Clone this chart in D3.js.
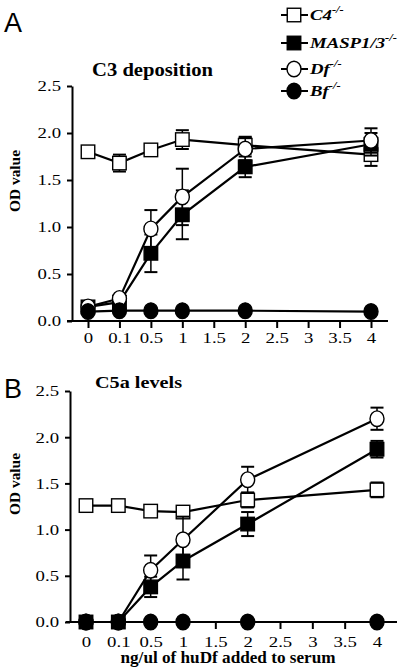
<!DOCTYPE html>
<html><head><meta charset="utf-8">
<script src="https://cdn.jsdelivr.net/npm/d3@7"></script>
<style>body{margin:0;background:#fff}svg{display:block}</style>
</head><body>
<svg id="c" width="400" height="671"></svg>
<script>
const xTickLabels = ["0","0.1","0.5","1","1.5","2","2.5","3","3.5","4"];
const doses = ["0","0.1","0.5","1","2","4"];
const yTicks = [0,0.5,1,1.5,2,2.5];
const seriesNames = ["C4","MASP1/3","Df","Bf"];

// Panel A: C3 deposition
const c3_C4 = [1.80,1.68,1.82,1.93,1.87,1.77];
const c3_C4_err = [0.04,0.09,0.04,0.10,0.09,0.12];
const c3_MASP = [0.15,0.20,0.72,1.13,1.64,1.88];
const c3_MASP_err = [0.03,0.03,0.20,0.26,0.11,0.12];
const c3_Df = [0.15,0.24,0.98,1.32,1.83,1.92];
const c3_Df_err = [0.03,0.03,0.20,0.30,0.12,0.13];
const c3_Bf = [0.10,0.11,0.11,0.11,0.11,0.10];
const c3_Bf_err = [0,0,0,0,0,0];

// Panel B: C5a levels
const c5_C4 = [1.26,1.26,1.20,1.19,1.32,1.43];
const c5_C4_err = [0.03,0.03,0.03,0.03,0.08,0.08];
const c5_MASP = [0,0,0.38,0.66,1.06,1.87];
const c5_MASP_err = [0,0,0.11,0.20,0.13,0.09];
const c5_Df = [0,0,0.56,0.89,1.54,2.20];
const c5_Df_err = [0,0,0.16,0.25,0.14,0.12];
const c5_Bf = [0,0,0,0,0,0];
const c5_Bf_err = [0,0,0,0,0,0];

const svg = d3.select("#c");
const serif = "'Liberation Serif','Times New Roman',serif";
const sans = "'Liberation Sans',Arial,sans-serif";

function stretch(sel, f) {
  sel.each(function() {
    const w = this.getComputedTextLength();
    d3.select(this).attr("textLength", w * f).attr("lengthAdjust", "spacingAndGlyphs");
  });
}

const markerStyles = [
  {shape:"square", fill:"#fff"},
  {shape:"square", fill:"#000"},
  {shape:"circle", fill:"#fff"},
  {shape:"circle", fill:"#000"}
];

function drawMarker(g, x, y, st) {
  if (st.shape === "square") {
    const s = 13.5;
    g.append("rect").attr("x", x - s/2).attr("y", y - s/2).attr("width", s).attr("height", s)
      .attr("fill", st.fill).attr("stroke", "#000").attr("stroke-width", 1.4);
  } else {
    g.append("ellipse").attr("cx", x).attr("cy", y).attr("rx", 7).attr("ry", 7.8)
      .attr("fill", st.fill).attr("stroke", "#000").attr("stroke-width", 1.4);
  }
}

function panel(cfg) {
  const x = d3.scalePoint().domain(xTickLabels).range(cfg.xRange);
  const y = d3.scaleLinear().domain([0, 2.5]).range(cfg.yRange);
  const g = svg.append("g");

  // y axis
  const ya = g.append("g").attr("transform", `translate(${cfg.yAxisX},0)`)
    .call(d3.axisLeft(y).tickValues(yTicks).tickFormat(d3.format(".1f")).tickSize(5).tickPadding(6).tickSizeOuter(0));
  ya.select(".domain").attr("stroke-width", 2);
  ya.selectAll(".tick line").attr("stroke-width", 2);
  ya.selectAll("text").attr("font-family", serif).attr("font-size", 15).attr("fill", "#000");
  stretch(ya.selectAll("text"), 1.25);

  // x axis
  const xa = g.append("g").attr("transform", `translate(0,${cfg.yRange[0]})`)
    .call(d3.axisBottom(x).tickSize(7).tickPadding(cfg.xPad).tickSizeOuter(0));
  xa.select(".domain").attr("d", `M${cfg.xLine[0]},0H${cfg.xLine[1]}`).attr("stroke-width", 2);
  xa.selectAll(".tick line").attr("stroke-width", 2);
  xa.selectAll("text").attr("font-family", serif).attr("font-size", 15).attr("fill", "#000");
  stretch(xa.selectAll("text"), 1.25);

  const line = d3.line().x((d, i) => x(doses[i])).y(d => y(d));

  cfg.series.forEach((s, k) => {
    const sg = g.append("g");
    sg.append("path").datum(s.vals).attr("d", line).attr("fill", "none")
      .attr("stroke", "#000").attr("stroke-width", 2.2);
    s.vals.forEach((v, i) => {
      const e = s.err[i];
      if (e > 0) {
        const cx = x(doses[i]);
        sg.append("line").attr("x1", cx).attr("x2", cx).attr("y1", y(v - e)).attr("y2", y(v + e))
          .attr("stroke", "#000").attr("stroke-width", 1.5);
        [v - e, v + e].forEach(t => sg.append("line").attr("x1", cx - 6.5).attr("x2", cx + 6.5)
          .attr("y1", y(t)).attr("y2", y(t)).attr("stroke", "#000").attr("stroke-width", 2));
      }
    });
    s.vals.forEach((v, i) => drawMarker(sg, x(doses[i]), y(v), markerStyles[k]));
  });

  // y title
  const yt = g.append("text").attr("transform", `translate(${cfg.yTitleX},${cfg.yTitleY}) rotate(-90)`)
    .attr("text-anchor", "middle").attr("font-family", serif).attr("font-weight", "bold")
    .attr("font-size", 15).text("OD value");
  yt.attr("textLength", 62).attr("lengthAdjust", "spacingAndGlyphs");
  // panel title
  g.append("text").attr("x", cfg.titleX).attr("y", cfg.titleY).attr("font-family", serif)
    .attr("font-weight", "bold").attr("font-size", cfg.titleSize)
    .attr("textLength", cfg.titleLen).attr("lengthAdjust", "spacingAndGlyphs").text(cfg.title);
  // panel letter
  g.append("text").attr("x", 4).attr("y", cfg.letterY).attr("font-family", sans)
    .attr("font-size", 27).text(cfg.letter);
}

panel({
  xRange: [88, 371], yRange: [321, 86], yAxisX: 72, xLine: [67, 388], xPad: 4,
  yTitleX: 20, yTitleY: 181, title: "C3 deposition", titleX: 92, titleY: 76, titleSize: 19, titleLen: 121,
  letter: "A", letterY: 32,
  series: [
    {vals: c3_C4, err: c3_C4_err},
    {vals: c3_MASP, err: c3_MASP_err},
    {vals: c3_Df, err: c3_Df_err},
    {vals: c3_Bf, err: c3_Bf_err}
  ]
});

panel({
  xRange: [86, 377], yRange: [622, 391], yAxisX: 70, xLine: [66, 397], xPad: 7,
  yTitleX: 20, yTitleY: 484, title: "C5a levels", titleX: 95, titleY: 388, titleSize: 17, titleLen: 87,
  letter: "B", letterY: 398,
  series: [
    {vals: c5_C4, err: c5_C4_err},
    {vals: c5_MASP, err: c5_MASP_err},
    {vals: c5_Df, err: c5_Df_err},
    {vals: c5_Bf, err: c5_Bf_err}
  ]
});

// x title
svg.append("text").attr("x", 228).attr("y", 663).attr("text-anchor", "middle")
  .attr("font-family", serif).attr("font-weight", "bold").attr("font-size", 16)
  .attr("textLength", 215).attr("lengthAdjust", "spacingAndGlyphs")
  .text("ng/ul of huDf added to serum");

// legend
const legendY = [15, 43, 69, 91];
const lg = svg.append("g");
seriesNames.forEach((name, k) => {
  const ly = legendY[k];
  lg.append("line").attr("x1", 281).attr("x2", 308).attr("y1", ly).attr("y2", ly)
    .attr("stroke", "#000").attr("stroke-width", 2);
  drawMarker(lg, 294, ly, markerStyles[k]);
  const t = lg.append("text").attr("x", 310).attr("y", ly + 5).attr("font-family", serif)
    .attr("font-style", "italic").attr("font-weight", "bold").attr("font-size", 15);
  const a = t.append("tspan").text(name);
  t.append("tspan").attr("dy", -7).attr("font-size", 10).text("-/-");
  stretch(t, 1.25);
});
</script>
</body></html>
